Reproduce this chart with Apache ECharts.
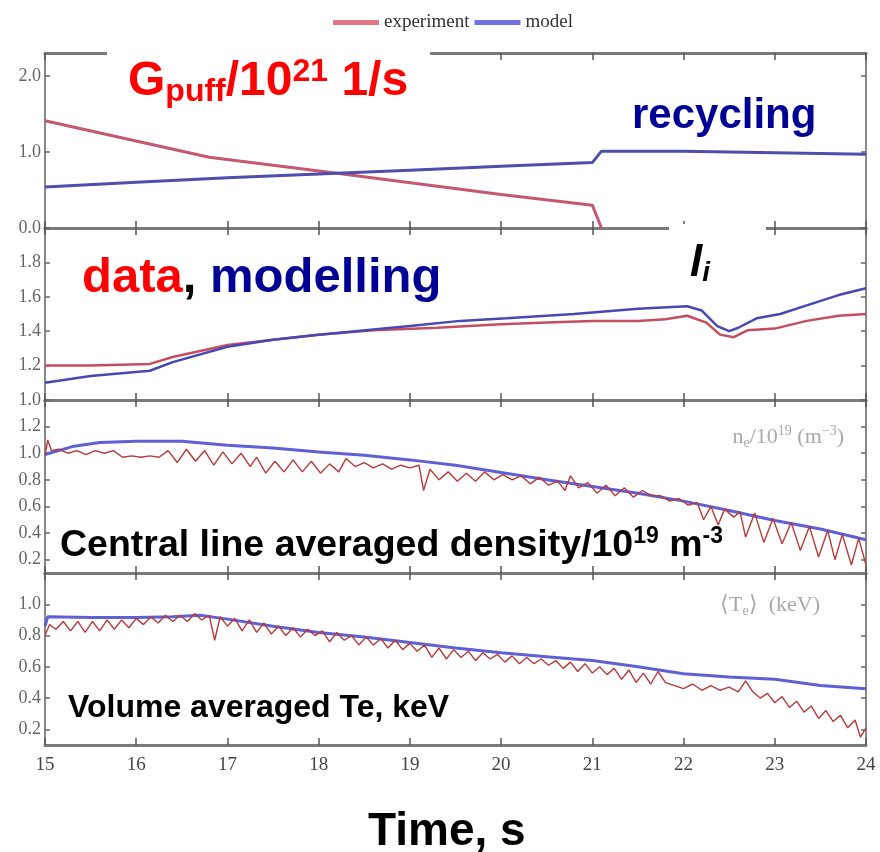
<!DOCTYPE html>
<html><head><meta charset="utf-8">
<script src="https://cdn.jsdelivr.net/npm/echarts@6/dist/echarts.min.js"></script>
<style>html,body{margin:0;padding:0;background:#fff}#c{width:880px;height:852px}</style>
</head><body><div id="c"></div>
<script>
// ---------- data ----------
const xTicks = [15, 16, 17, 18, 19, 20, 21, 22, 23, 24];

// panel 1: gas puff (experiment) and recycling (model), 1e21 1/s
const gpuffExp = [[15.0,1.41],[16.8,0.93],[18.2,0.72],[20.0,0.44],[21.0,0.30],[21.1,0.0]];
const gpuffModel = [[15.0,0.54],[16.0,0.60],[17.0,0.66],[18.0,0.71],[19.0,0.76],[20.0,0.81],[21.0,0.86],[21.1,1.01],[22.0,1.01],[23.0,0.99],[24.0,0.97]];

// panel 2: internal inductance li
const liExp = [[15.0,1.20],[15.5,1.20],[16.15,1.21],[16.4,1.25],[17.0,1.32],[17.5,1.35],[18.0,1.38],[18.6,1.405],[19.3,1.42],[20.0,1.44],[20.5,1.45],[21.0,1.46],[21.5,1.46],[21.8,1.47],[22.04,1.49],[22.25,1.45],[22.4,1.38],[22.55,1.365],[22.7,1.405],[23.0,1.415],[23.35,1.46],[23.7,1.49],[24.0,1.50]];
const liModel = [[15.0,1.10],[15.5,1.14],[16.15,1.17],[16.4,1.22],[17.0,1.31],[17.5,1.35],[18.0,1.38],[18.6,1.41],[19.0,1.43],[19.55,1.46],[20.06,1.475],[20.8,1.50],[21.5,1.53],[22.04,1.545],[22.2,1.52],[22.37,1.43],[22.5,1.40],[22.6,1.42],[22.8,1.475],[23.06,1.50],[23.35,1.55],[23.7,1.61],[24.0,1.65]];

// panel 3: central line averaged density, 1e19 m^-3
const neExp = [[15.00,0.98],[15.03,1.10],[15.07,1.02],[15.15,1.03],[15.25,1.00],[15.35,1.02],[15.45,0.99],[15.55,1.02],[15.65,1.00],[15.75,1.02],[15.85,0.97],[15.95,0.98],[16.05,0.97],[16.15,0.98],[16.25,0.97],[16.35,1.02],[16.45,0.93],[16.55,1.03],[16.65,0.94],[16.75,1.02],[16.85,0.91],[16.95,1.01],[17.05,0.92],[17.15,1.00],[17.25,0.90],[17.32,0.97],[17.42,0.85],[17.52,0.94],[17.62,0.86],[17.72,0.95],[17.82,0.86],[17.92,0.94],[18.02,0.85],[18.12,0.92],[18.22,0.86],[18.30,0.96],[18.40,0.90],[18.50,0.93],[18.60,0.89],[18.70,0.92],[18.80,0.88],[18.90,0.91],[19.00,0.89],[19.10,0.91],[19.15,0.72],[19.22,0.88],[19.32,0.80],[19.42,0.86],[19.52,0.79],[19.62,0.85],[19.72,0.79],[19.82,0.86],[19.92,0.80],[20.02,0.84],[20.12,0.80],[20.22,0.83],[20.32,0.77],[20.42,0.82],[20.52,0.76],[20.62,0.79],[20.70,0.72],[20.76,0.83],[20.85,0.74],[20.95,0.78],[21.05,0.70],[21.15,0.76],[21.25,0.68],[21.35,0.74],[21.45,0.67],[21.55,0.72],[21.65,0.68],[21.75,0.68],[21.85,0.64],[21.95,0.66],[22.05,0.61],[22.15,0.63],[22.22,0.50],[22.30,0.60],[22.38,0.46],[22.45,0.58],[22.55,0.52],[22.62,0.56],[22.68,0.37],[22.78,0.55],[22.88,0.33],[22.98,0.51],[23.08,0.32],[23.18,0.48],[23.28,0.27],[23.38,0.45],[23.48,0.22],[23.58,0.42],[23.66,0.20],[23.74,0.39],[23.84,0.16],[23.92,0.36],[24.00,0.16]];
const neModel = [[15.0,0.99],[15.3,1.05],[15.6,1.08],[16.0,1.09],[16.5,1.09],[17.0,1.06],[17.5,1.04],[18.0,1.01],[18.5,0.985],[19.0,0.95],[19.5,0.91],[20.0,0.855],[20.5,0.80],[21.0,0.75],[21.5,0.70],[22.0,0.64],[22.5,0.57],[23.0,0.495],[23.5,0.43],[24.0,0.35]];

// panel 4: volume averaged Te, keV
const teExp = [[15.00,0.80],[15.05,0.87],[15.12,0.84],[15.20,0.89],[15.28,0.83],[15.36,0.89],[15.44,0.82],[15.52,0.89],[15.60,0.83],[15.68,0.90],[15.76,0.84],[15.84,0.90],[15.92,0.85],[16.00,0.91],[16.08,0.87],[16.16,0.92],[16.24,0.88],[16.32,0.93],[16.40,0.89],[16.48,0.93],[16.56,0.89],[16.64,0.94],[16.72,0.90],[16.80,0.93],[16.86,0.77],[16.92,0.92],[17.00,0.86],[17.08,0.91],[17.16,0.83],[17.24,0.90],[17.32,0.82],[17.40,0.88],[17.48,0.81],[17.56,0.86],[17.64,0.80],[17.72,0.85],[17.80,0.79],[17.88,0.84],[17.96,0.80],[18.04,0.83],[18.12,0.76],[18.20,0.82],[18.28,0.77],[18.36,0.80],[18.44,0.74],[18.52,0.79],[18.60,0.74],[18.68,0.78],[18.76,0.72],[18.84,0.77],[18.92,0.71],[19.00,0.75],[19.08,0.70],[19.16,0.74],[19.24,0.66],[19.32,0.72],[19.40,0.65],[19.48,0.71],[19.56,0.66],[19.64,0.70],[19.72,0.64],[19.80,0.69],[19.88,0.65],[19.96,0.68],[20.04,0.63],[20.12,0.67],[20.20,0.62],[20.28,0.66],[20.36,0.62],[20.44,0.65],[20.52,0.61],[20.60,0.64],[20.68,0.59],[20.76,0.63],[20.84,0.57],[20.92,0.62],[21.00,0.56],[21.08,0.60],[21.16,0.55],[21.24,0.59],[21.32,0.52],[21.40,0.58],[21.48,0.50],[21.56,0.56],[21.64,0.49],[21.72,0.57],[21.80,0.50],[21.90,0.48],[22.00,0.46],[22.10,0.49],[22.20,0.45],[22.30,0.48],[22.40,0.45],[22.50,0.47],[22.60,0.44],[22.68,0.51],[22.76,0.44],[22.84,0.40],[22.92,0.43],[23.00,0.37],[23.08,0.41],[23.16,0.34],[23.24,0.38],[23.32,0.31],[23.40,0.35],[23.48,0.27],[23.56,0.32],[23.64,0.25],[23.72,0.29],[23.80,0.21],[23.88,0.26],[23.94,0.15],[24.00,0.21]];
const teModel = [[15.0,0.86],[15.03,0.92],[15.5,0.915],[16.0,0.915],[16.4,0.92],[16.7,0.93],[17.0,0.905],[17.5,0.86],[18.0,0.82],[18.5,0.79],[19.0,0.755],[19.5,0.72],[20.0,0.69],[20.5,0.665],[21.0,0.64],[21.5,0.60],[22.0,0.555],[22.5,0.535],[23.0,0.52],[23.5,0.48],[24.0,0.46]];

// y-axis ranges and tick labels per panel
const yRanges = [[0, 2.3], [1.0, 2.0], [0.1, 1.4], [0.1, 1.2]];
const yTickLabels = [[0, 1, 2], [1.0, 1.2, 1.4, 1.6, 1.8], [0.2, 0.4, 0.6, 0.8, 1.0, 1.2], [0.2, 0.4, 0.6, 0.8, 1.0]];

// ---------- layout ----------
const gridBoxes = [
  {top: 53, height: 175},
  {top: 228, height: 172},
  {top: 400, height: 173},
  {top: 573, height: 172}
];
const SANS = '"Liberation Sans", Arial, sans-serif';
const SERIF = '"Liberation Serif", "Times New Roman", serif';

const grid = gridBoxes.map(g => ({left: 45, right: 14, top: g.top, height: g.height, show: false}));

const xAxis = [];
const yAxis = [];
gridBoxes.forEach((g, i) => {
  ['bottom', 'top'].forEach(pos => {
    xAxis.push({
      type: 'value', gridIndex: i, position: pos, min: 15, max: 24, interval: 1,
      axisLine: {show: true, onZero: false, lineStyle: {color: '#7a7a7a', width: 3}},
      axisTick: {show: true, inside: true, length: 7, lineStyle: {color: '#555', width: 1.5}},
      axisLabel: {show: i === 3 && pos === 'bottom', customValues: xTicks, formatter: v => String(v),
        fontFamily: SERIF, fontSize: 19, color: '#444', margin: 11},
      splitLine: {show: false}
    });
  });
  ['left', 'right'].forEach(pos => {
    yAxis.push({
      type: 'value', gridIndex: i, position: pos, min: yRanges[i][0], max: yRanges[i][1],
      axisLine: {show: true, onZero: false, lineStyle: {color: '#888', width: 2}},
      axisTick: {show: true, inside: true, length: 5, customValues: yTickLabels[i], lineStyle: {color: '#666', width: 1.5}},
      axisLabel: {show: pos === 'left', customValues: yTickLabels[i], formatter: v => v.toFixed(1),
        fontFamily: SERIF, fontSize: 18, color: '#666', margin: 4},
      splitLine: {show: false}
    });
  });
});

function line(name, data, gi, color, width, z) {
  return {
    type: 'line', name, data, xAxisIndex: gi * 2, yAxisIndex: gi * 2,
    showSymbol: false, symbol: 'none', animation: false, z: z || 2,
    lineStyle: {color, width}, itemStyle: {color}
  };
}

const series = [
  line('experiment', gpuffExp, 0, '#c45870', 3, 3),
  line('model', gpuffModel, 0, '#4e4eae', 3, 4),
  line('experiment', liExp, 1, '#c44e60', 2.5, 3),
  line('model', liModel, 1, '#4848b4', 2.5, 4),
  line('model', neModel, 2, '#6060d6', 3, 3),
  line('experiment', neExp, 2, '#b83a3a', 1.4, 4),
  line('model', teModel, 3, '#6060d6', 3, 3),
  line('experiment', teExp, 3, '#b83a3a', 1.4, 4)
];

const graphic = [
  {type: 'text', left: 107, top: 46, z: 100, style: {
    text: '{g|G}{s|puff}{g|/10}{p|21}{g| 1/s}',
    backgroundColor: '#fff', padding: [10, 22, 12, 21],
    rich: {
      g: {fontFamily: SANS, fontWeight: 'bold', fontSize: 48, fill: '#ff0000', lineHeight: 52, verticalAlign: 'middle'},
      s: {fontFamily: SANS, fontWeight: 'bold', fontSize: 32, fill: '#ff0000', lineHeight: 6, verticalAlign: 'bottom'},
      p: {fontFamily: SANS, fontWeight: 'bold', fontSize: 32, fill: '#ff0000', lineHeight: 30, verticalAlign: 'top'}
    }}},
  {type: 'text', left: 632, top: 95, z: 100, style: {
    text: 'recycling', fontFamily: SANS, fontWeight: 'bold', fontSize: 42, fill: '#000096'}},
  {type: 'text', left: 82, top: 254, z: 100, style: {
    text: '{r|data}{k|, }{b|modelling}',
    rich: {
      r: {fontFamily: SANS, fontWeight: 'bold', fontSize: 49, fill: '#ff0000'},
      k: {fontFamily: SANS, fontWeight: 'bold', fontSize: 49, fill: '#000'},
      b: {fontFamily: SANS, fontWeight: 'bold', fontSize: 49, fill: '#000096'}
    }}},
  {type: 'text', left: 669, top: 224, z: 100, style: {
    text: '{l|l}{i|i}', backgroundColor: '#fff', padding: [17, 56, 10, 21],
    rich: {
      l: {fontFamily: SANS, fontWeight: 'bold', fontStyle: 'italic', fontSize: 44, fill: '#000', lineHeight: 46, verticalAlign: 'middle'},
      i: {fontFamily: SANS, fontWeight: 'bold', fontStyle: 'italic', fontSize: 28, fill: '#000', lineHeight: 4, verticalAlign: 'bottom'}
    }}},
  {type: 'text', right: 36, top: 424, z: 100, style: {
    text: '{t|n}{b|e}{t|/10}{p|19}{t| (m}{p|−3}{t|)}',
    rich: {
      t: {fontFamily: SERIF, fontSize: 22, fill: '#a8a8a8', lineHeight: 26, verticalAlign: 'middle'},
      b: {fontFamily: SERIF, fontSize: 14, fill: '#a8a8a8', lineHeight: 8, verticalAlign: 'bottom'},
      p: {fontFamily: SERIF, fontSize: 14, fill: '#a8a8a8', lineHeight: 18, verticalAlign: 'top'}
    }}},
  {type: 'text', right: 60, top: 594, z: 100, style: {
    text: '{t|⟨T}{b|e}{t|⟩  (keV)}',
    rich: {
      t: {fontFamily: SERIF, fontSize: 22, fill: '#a8a8a8', lineHeight: 26, verticalAlign: 'middle'},
      b: {fontFamily: SERIF, fontSize: 14, fill: '#a8a8a8', lineHeight: 8, verticalAlign: 'bottom'}
    }}},
  {type: 'text', left: 60, top: 525, z: 100, style: {
    text: '{a|Central line averaged density/10}{p|19}{a| m}{p|-3}',
    rich: {
      a: {fontFamily: SANS, fontWeight: 'bold', fontSize: 37.5, fill: '#000', lineHeight: 42, verticalAlign: 'middle'},
      p: {fontFamily: SANS, fontWeight: 'bold', fontSize: 23, fill: '#000', lineHeight: 26, verticalAlign: 'top'}
    }}},
  {type: 'text', left: 68, top: 692, z: 100, style: {
    text: 'Volume averaged Te, keV', fontFamily: SANS, fontWeight: 'bold', fontSize: 32, fill: '#000'}},
  {type: 'text', left: 368, top: 809, z: 100, style: {
    text: 'Time, s', fontFamily: SANS, fontWeight: 'bold', fontSize: 46, fill: '#000'}}
];

const chart = echarts.init(document.getElementById('c'), null, {renderer: 'canvas'});
chart.setOption({
  animation: false,
  backgroundColor: '#fff',
  legend: {
    top: 8, left: 328, icon: 'rect', itemWidth: 46, itemHeight: 5, itemGap: 5,
    data: [{name: 'experiment', itemStyle: {color: '#e07888'}}, {name: 'model', itemStyle: {color: '#7272e0'}}],
    textStyle: {fontFamily: SERIF, fontSize: 19, color: '#333'}
  },
  grid, xAxis, yAxis, series, graphic
});
</script></body></html>
